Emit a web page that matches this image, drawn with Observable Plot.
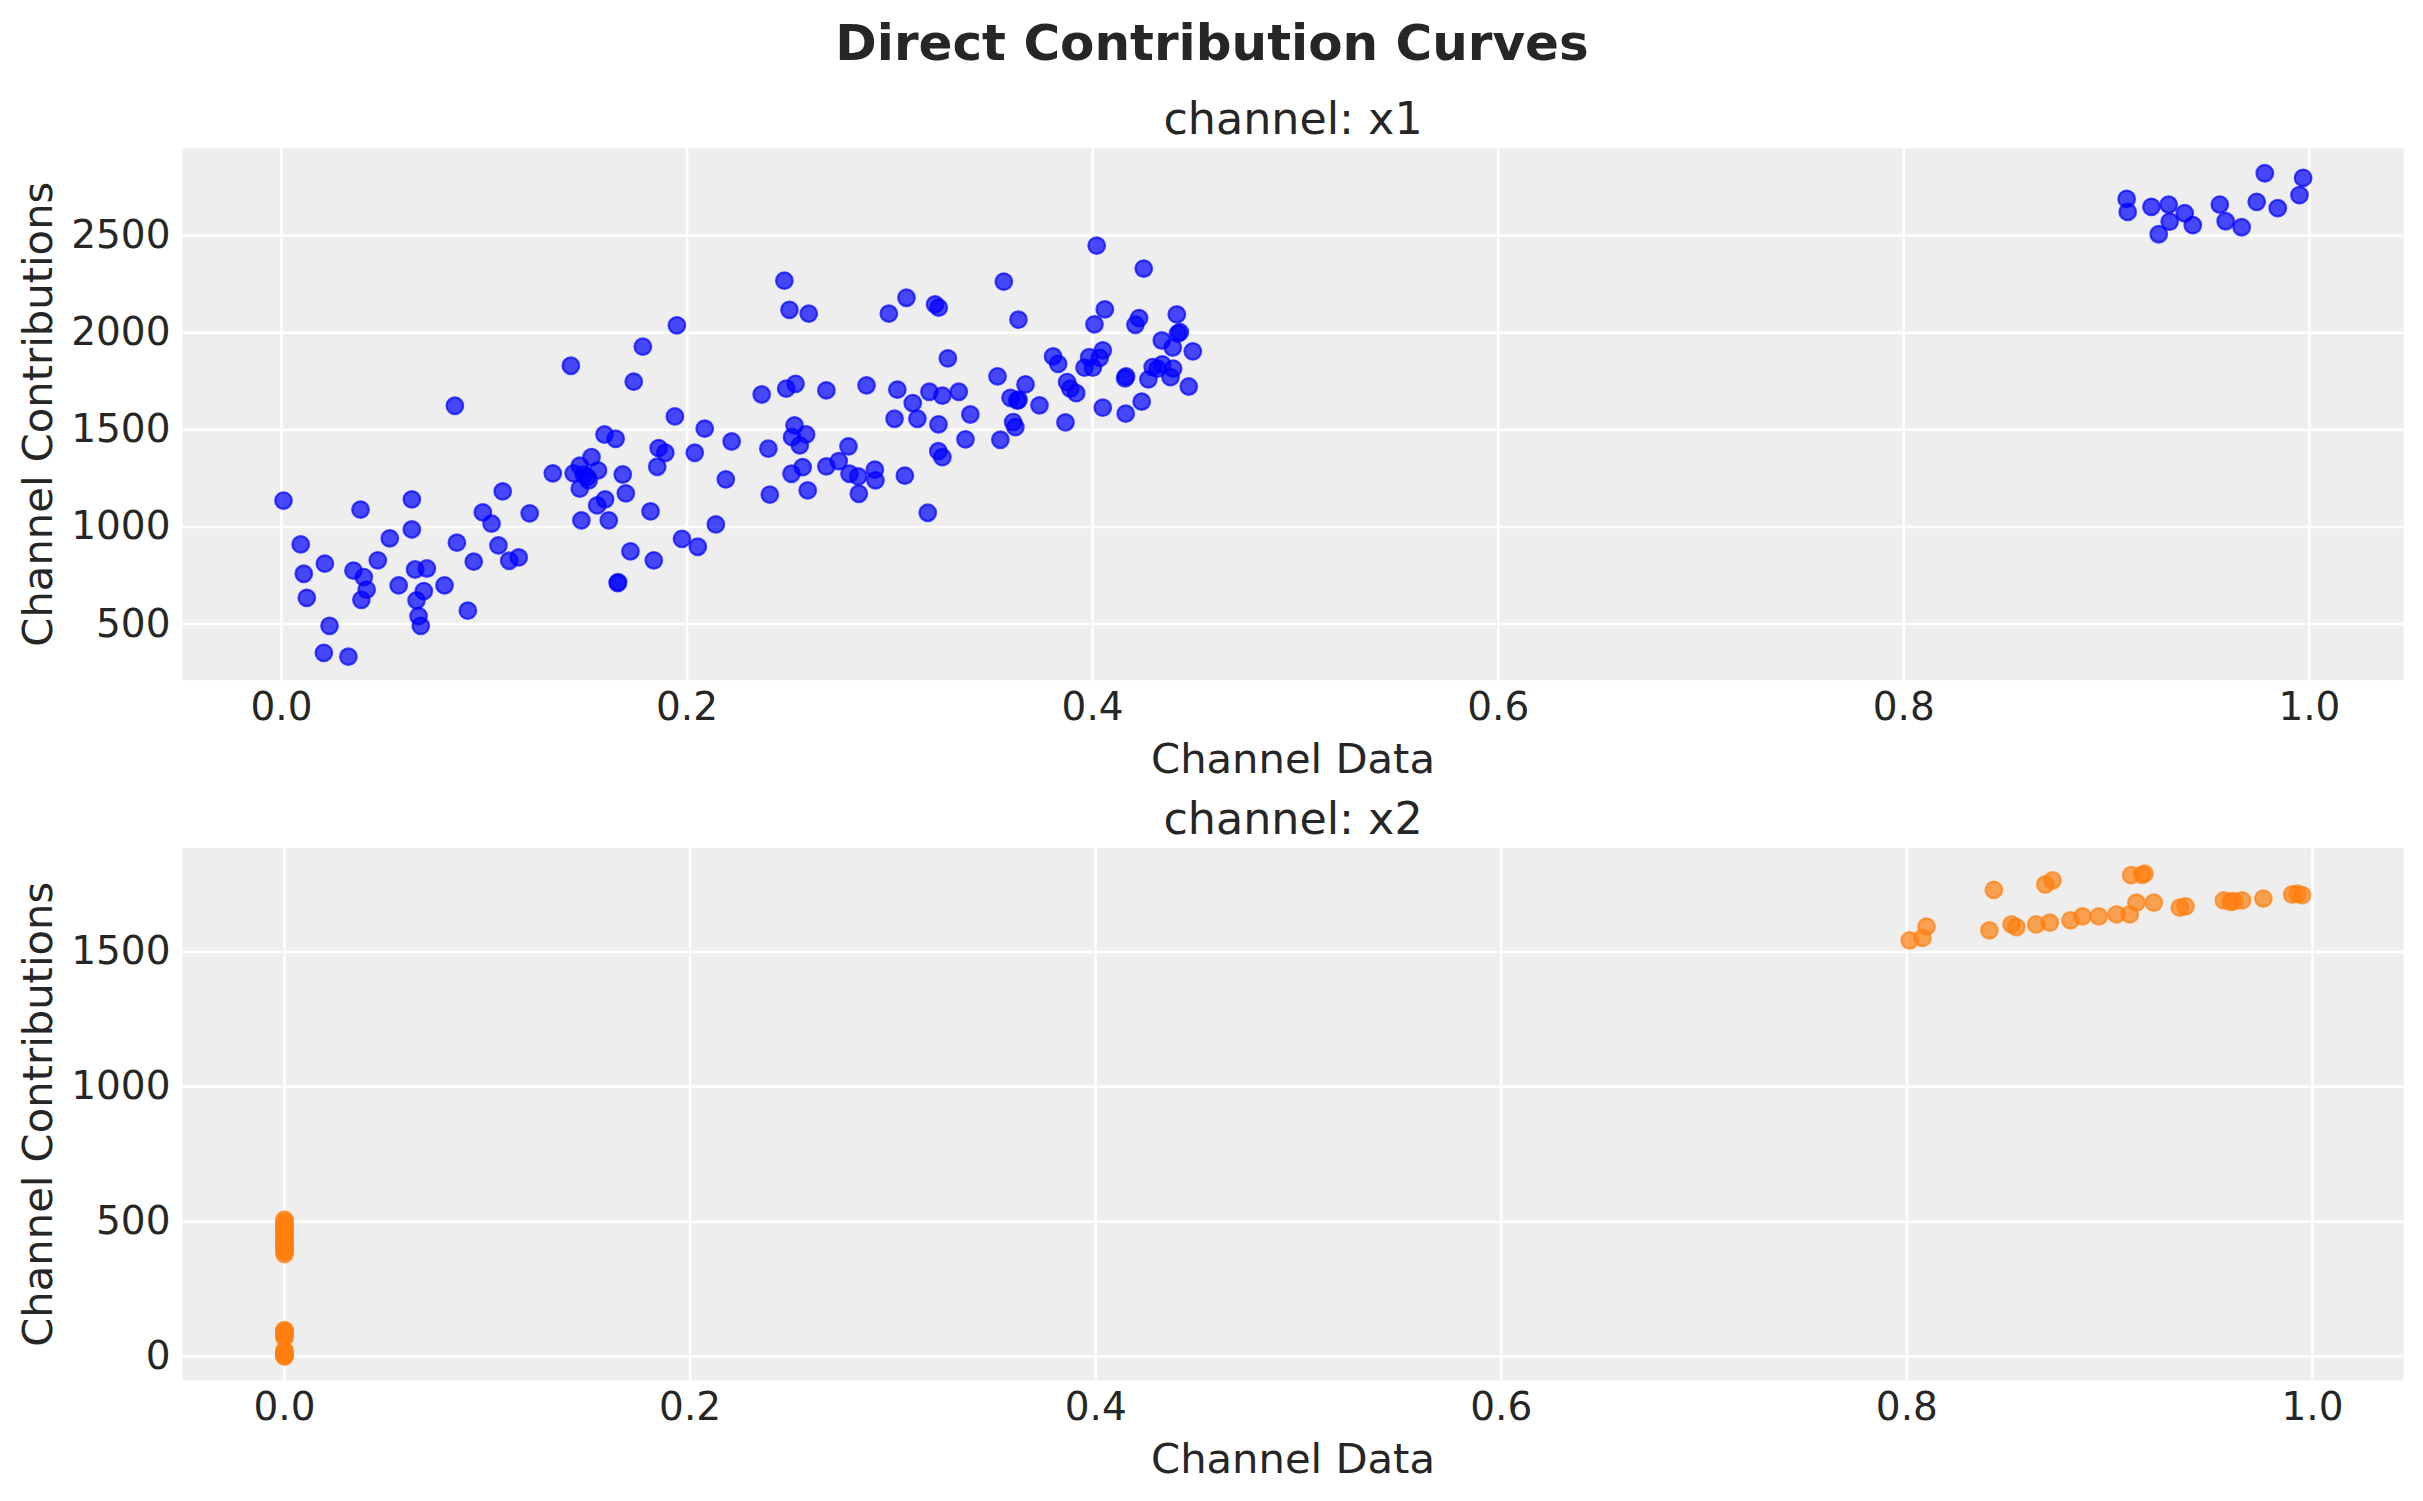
<!DOCTYPE html>
<html><head><meta charset="utf-8">
<script src="https://cdn.jsdelivr.net/npm/d3@7"></script>
<script src="https://cdn.jsdelivr.net/npm/@observablehq/plot@0.6"></script>
<style>
html,body{margin:0;padding:0;background:#fff;}
#chart{width:2423px;height:1501px;position:relative;}
#chart svg{display:block;}
</style></head><body><div id="chart"></div>
<script>
const figureTitle = "Direct Contribution Curves";
const panelTitles = ["channel: x1", "channel: x2"];
const xLabel = "Channel Data";
const yLabel = "Channel Contributions";
const xTicks = [0, 0.2, 0.4, 0.6, 0.8, 1.0];
const yTicksX1 = [500, 1000, 1500, 2000, 2500];
const yTicksX2 = [0, 500, 1000, 1500];

const x1ChannelData = [
 0.001,0.0095,0.011,0.0125,0.0214,0.0237,0.0209,0.033,0.039,0.0355,0.0406,0.042,0.0394,0.0475,0.0534,0.0578,
 0.0643,0.0643,0.0659,0.0717,0.0702,0.0666,0.0676,0.0687,0.0804,0.0855,0.0865,0.0919,0.0948,0.0993,0.1036,0.1091,
 0.107,0.1123,0.117,0.1224,0.1338,0.1427,0.1441,0.1471,0.1529,0.1561,0.1507,0.1471,0.149,0.1515,0.1593,0.1648,
 0.1683,0.1596,0.1557,0.1479,0.1614,0.1698,0.1658,0.166,0.1721,0.1836,0.182,0.1853,0.186,0.1893,0.1737,0.1782,
 0.194,0.195,0.1975,
 0.2087,0.2038,0.222,0.2191,0.2142,0.2053,0.2368,0.2401,0.2408,0.248,0.2505,0.26,0.2489,0.2535,0.253,0.2518,
 0.2587,0.2556,0.257,0.2515,0.2595,0.2687,0.2687,0.2748,0.2796,0.2801,0.2844,0.2847,0.2885,0.2926,0.2929,0.2995,
 0.3082,0.3037,0.3113,0.3023,0.3136,0.3074,0.3187,0.3195,0.3259,0.334,0.3286,0.3223,0.3241,0.324,0.3397,0.3373,
 0.3239,0.3259,0.3562,0.3634,0.3531,0.3595,0.3628,0.3635,0.3669,0.3738,0.3608,0.3619,0.3545,0.3805,0.383,
 0.402,0.4252,0.406,0.4009,0.4229,0.4211,0.4415,0.443,0.442,0.4494,0.4341,0.4395,0.4474,0.405,0.4035,0.3983,
 0.396,0.4001,0.3874,0.389,0.3919,0.405,0.4163,0.4242,0.4165,0.416,0.4275,0.4296,0.4343,0.4384,0.4397,0.432,0.3866,
 0.9099,0.9104,0.9221,0.9306,0.9311,0.9257,0.9385,0.9425,0.9558,0.9587,0.9666,0.974,0.978,0.9844,0.9951,0.9969
];
const x1Contributions = [
 1136,910,759,635,811,491,352,332,1089,775,742,677,625,828,941,699,
 1142,987,781,786,670,622,541,491,699,1624,919,569,821,1075,1017,1183,
 905,826,843,1070,1276,1830,1276,1315,1360,1291,1257,1197,1270,1240,1476,1454,
 1270,1142,1111,1034,1034,1173,711,716,874,828,1080,1310,1406,1382,1748,1928,
 1569,2038,939,
 1506,1382,1440,1245,1013,898,1682,1403,1166,2268,2118,2098,1712,1737,1523,1462,
 1476,1420,1308,1274,1188,1703,1312,1339,1415,1274,1260,1171,1729,1295,1240,2098,
 2180,1707,1638,1557,1557,1264,1073,1696,1676,1696,1868,2146,2129,1528,1579,1451,
 1390,1359,2263,2067,1775,1665,1651,1655,1734,1626,1540,1514,1449,1878,1840,
 2448,2330,2120,2043,2075,2041,2094,2003,1995,1904,1960,1924,1723,1909,1871,1874,
 1820,1820,1746,1712,1689,1614,1583,1645,1775,1765,1760,1823,1837,1771,1815,1815,1538,
 2689,2622,2648,2660,2572,2507,2615,2554,2660,2574,2543,2674,2821,2641,2708,2797
];

const x2ChannelData = [
 0.8014,0.8077,0.8097,0.8429,0.8407,0.8516,0.854,0.8638,0.8705,0.8683,0.8718,0.8807,0.8866,0.8946,0.9034,0.9099,
 0.9132,0.9218,0.9106,0.9172,0.916,0.9346,0.9374,0.9563,0.9596,0.9612,0.9653,0.9758,0.99,0.9925,0.9949,
 0,0,0,0,0,0,0,0,0,0,0,0,0,0,0,0,0,0,
 0,0,0,0,0,0,0,0,0,0,0,0,0
];
const x2Contributions = [
 1543,1552,1594,1730,1580,1602,1592,1602,1609,1750,1765,1617,1632,1632,1639,1639,
 1683,1683,1785,1790,1786,1664,1669,1691,1686,1688,1691,1698,1713,1716,1711,
 380,388,395,402,410,418,425,432,440,447,455,462,470,478,485,492,500,507,
 0,3,6,10,14,18,22,70,76,82,88,94,98
];

const textColor = "#262626";
const font = "'DejaVu Sans', sans-serif";

function panel({xs, ys, color, xDomain, yDomain, yTicks, height, marginTop, marginBottom, subtitle, extra}) {
  const data = xs.map((x, i) => ({x, y: ys[i]}));
  return Plot.plot({
    width: 2423,
    height,
    marginTop,
    marginBottom,
    marginLeft: 182,
    marginRight: 20,
    style: {fontFamily: font, fontSize: "39px", color: textColor, background: "white", overflow: "visible"},
    x: {domain: xDomain},
    y: {domain: yDomain},
    marks: [
      Plot.frame({fill: "#eeeeee", stroke: "none"}),
      Plot.gridX(xTicks, {stroke: "white", strokeOpacity: 1, strokeWidth: 2.5}),
      Plot.gridY(yTicks, {stroke: "white", strokeOpacity: 1, strokeWidth: 2.5}),
      Plot.axisX(xTicks, {tickSize: 0, tickPadding: 12, tickFormat: d3.format(".1f"), label: null, fontSize: 39, fill: textColor}),
      Plot.axisY(yTicks, {tickSize: 0, tickPadding: 12, tickFormat: d => String(d), label: null, fontSize: 39, fill: textColor}),
      Plot.dot(data, {x: "x", y: "y", r: 8.3, fill: color, fillOpacity: 0.7, stroke: color, strokeOpacity: 0.7, strokeWidth: 2.2}),
      Plot.text([subtitle], {frameAnchor: "top", dy: -14.4, lineAnchor: "bottom", fontSize: 44.4, fill: textColor}),
      Plot.text([xLabel], {frameAnchor: "bottom", dy: 92.3, lineAnchor: "bottom", fontSize: 41.7, fill: textColor}),
      Plot.text([yLabel], {frameAnchor: "left", dx: -130.3, rotate: -90, lineAnchor: "bottom", textAnchor: "middle", fontSize: 41.7, fill: textColor}),
      ...(extra || [])
    ]
  });
}

const topPanel = panel({
  xs: x1ChannelData, ys: x1Contributions, color: "#0000ff",
  xDomain: [-0.0488, 1.0464], yDomain: [211, 2950], yTicks: yTicksX1,
  height: 790, marginTop: 147.7, marginBottom: 110.3, subtitle: panelTitles[0],
  extra: [Plot.text([figureTitle], {frameAnchor: "top", dx: -81, dy: -88.4, lineAnchor: "bottom", fontSize: 50, fontWeight: "bold", fill: textColor})]
});
const bottomPanel = panel({
  xs: x2ChannelData, ys: x2Contributions, color: "#ff7f0e",
  xDomain: [-0.0503, 1.0449], yDomain: [-89, 1885], yTicks: yTicksX2,
  height: 711, marginTop: 57.6, marginBottom: 121, subtitle: panelTitles[1]
});
const chart = document.getElementById("chart");
chart.appendChild(topPanel);
chart.appendChild(bottomPanel);
</script>
</body></html>
